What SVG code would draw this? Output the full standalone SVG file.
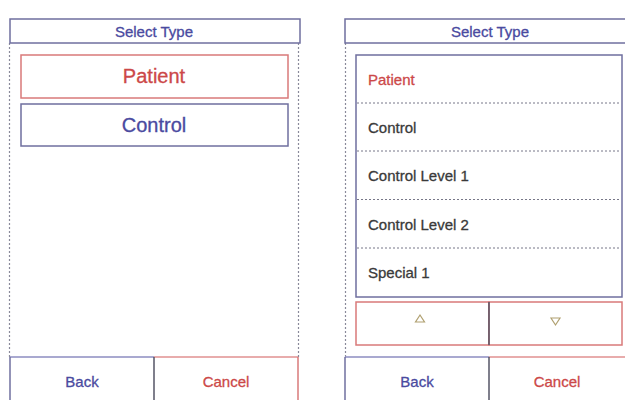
<svg xmlns="http://www.w3.org/2000/svg" width="625" height="400" viewBox="0 0 625 400">
<style>
.bg{fill:#ffffff}
.bbox{fill:#ffffff;stroke:#6f6f9f;stroke-width:1.5}
.rbox{fill:#ffffff;stroke:#d97a7a;stroke-width:1.5}
.dot{stroke:#8a8a9a;stroke-width:1.2;stroke-dasharray:2 2;fill:none}
.sep{stroke:#777788;stroke-width:1;stroke-dasharray:2 2;fill:none}
.div{stroke:#555566;stroke-width:1.5}
.t{font-family:"Liberation Sans",Arial,sans-serif;stroke-width:0.3}
.blue{fill:#4a4aa0;stroke:#4a4aa0}
.red{fill:#cc4848;stroke:#cc4848}
.gray{fill:#3a3a3a;stroke:#3a3a3a}
.sym{fill:none;stroke:#b0a070;stroke-width:1.2}
</style>
<rect class="bg" x="0" y="0" width="625" height="400"/>
<g id="left-panel">
  <g id="left-frame">
    <line class="dot" x1="9.5" y1="43" x2="9.5" y2="357"/>
    <line class="dot" x1="298.5" y1="43" x2="298.5" y2="357"/>
  </g>
  <g id="left-title">
    <rect class="bbox" x="10" y="19" width="290" height="24"/>
    <text class="t blue" x="154" y="37" font-size="15" text-anchor="middle">Select Type</text>
  </g>
  <g id="left-patient">
    <rect class="rbox" x="21" y="55" width="267" height="43"/>
    <text class="t red" x="154" y="83" font-size="20" text-anchor="middle">Patient</text>
  </g>
  <g id="left-control">
    <rect class="bbox" x="21" y="104" width="267" height="42"/>
    <text class="t blue" x="154" y="132" font-size="20" text-anchor="middle">Control</text>
  </g>
  <g id="left-back">
    <line x1="10" y1="357" x2="154" y2="357" stroke="#8c8cc0" stroke-width="1.5"/>
    <line x1="10" y1="357" x2="10" y2="400" stroke="#6f6f9f" stroke-width="1.5"/>
    <text class="t blue" x="82" y="387" font-size="15" text-anchor="middle">Back</text>
  </g>
  <g id="left-cancel">
    <line x1="154" y1="357" x2="298" y2="357" stroke="#e09090" stroke-width="1.5"/>
    <line x1="298" y1="357" x2="298" y2="400" stroke="#d97a7a" stroke-width="1.5"/>
    <line class="div" x1="154" y1="357" x2="154" y2="400"/>
    <text class="t red" x="226" y="387" font-size="15" text-anchor="middle">Cancel</text>
  </g>
</g>
<g id="right-panel">
  <g id="right-frame">
    <line class="dot" x1="345.5" y1="43" x2="345.5" y2="357"/>
  </g>
  <g id="right-title">
    <rect class="bbox" x="345" y="19" width="290" height="24"/>
    <text class="t blue" x="490" y="37" font-size="15" text-anchor="middle">Select Type</text>
  </g>
  <g id="right-list">
    <rect class="bbox" x="356" y="55" width="266" height="242"/>
    <line class="sep" x1="357" y1="103" x2="621" y2="103"/>
    <line class="sep" x1="357" y1="151" x2="621" y2="151"/>
    <line class="sep" x1="357" y1="199.5" x2="621" y2="199.5"/>
    <line class="sep" x1="357" y1="248" x2="621" y2="248"/>
    <text class="t red" x="368" y="85" font-size="15">Patient</text>
    <text class="t gray" x="368" y="133" font-size="15">Control</text>
    <text class="t gray" x="368" y="181" font-size="15">Control Level 1</text>
    <text class="t gray" x="368" y="229.5" font-size="15">Control Level 2</text>
    <text class="t gray" x="368" y="277.5" font-size="15">Special 1</text>
  </g>
  <g id="right-up">
    <rect class="rbox" x="356" y="302" width="133" height="43"/>
    <polygon class="sym" points="420,315 424.5,322 415.5,322"/>
  </g>
  <g id="right-down">
    <rect class="rbox" x="489" y="302" width="133" height="43"/>
    <line class="div" x1="489" y1="302" x2="489" y2="345"/>
    <polygon class="sym" points="551,318 560,318 555.5,325"/>
  </g>
  <g id="right-back">
    <line x1="345" y1="357" x2="489" y2="357" stroke="#8c8cc0" stroke-width="1.5"/>
    <line x1="345" y1="357" x2="345" y2="400" stroke="#6f6f9f" stroke-width="1.5"/>
    <text class="t blue" x="417" y="387" font-size="15" text-anchor="middle">Back</text>
  </g>
  <g id="right-cancel">
    <line x1="489" y1="357" x2="625" y2="357" stroke="#e09090" stroke-width="1.5"/>
    <line class="div" x1="489" y1="357" x2="489" y2="400"/>
    <text class="t red" x="557" y="387" font-size="15" text-anchor="middle">Cancel</text>
  </g>
</g>
</svg>
